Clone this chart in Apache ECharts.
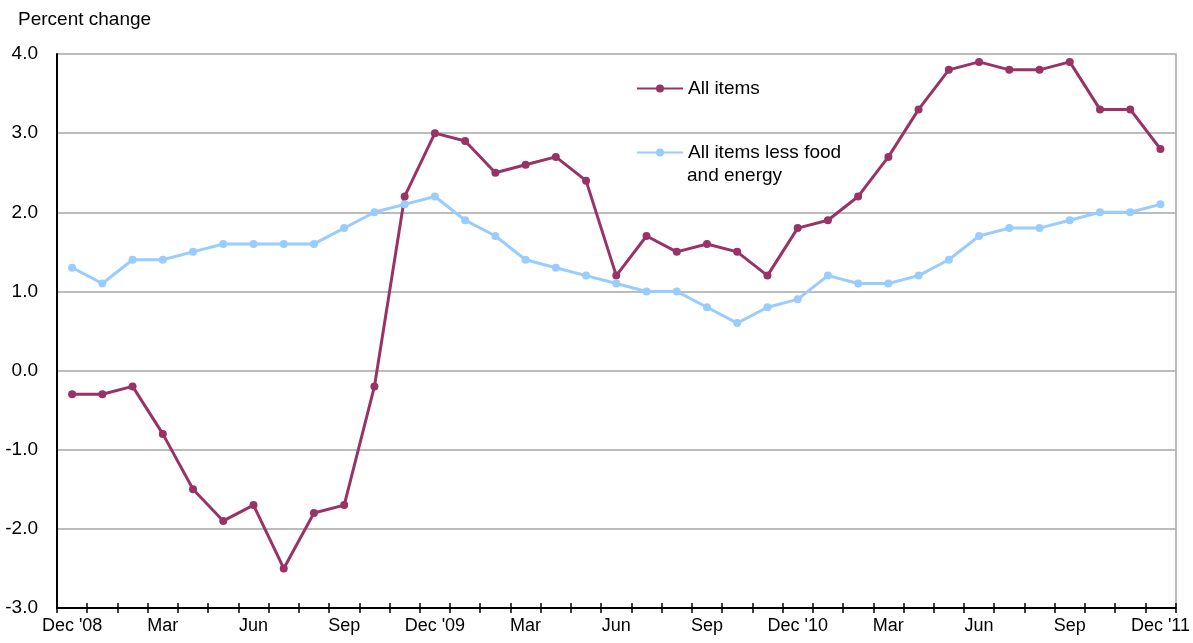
<!DOCTYPE html>
<html><head><meta charset="utf-8">
<script src="https://cdn.jsdelivr.net/npm/echarts@6/dist/echarts.min.js"></script>
<style>html,body{margin:0;padding:0;background:#fff}#c{width:1193px;height:643px}</style>
</head><body><div id="c"></div>
<script>
const months = ["Dec '08","Jan","Feb","Mar","Apr","May","Jun","Jul","Aug","Sep","Oct","Nov",
"Dec '09","Jan","Feb","Mar","Apr","May","Jun","Jul","Aug","Sep","Oct","Nov",
"Dec '10","Jan","Feb","Mar","Apr","May","Jun","Jul","Aug","Sep","Oct","Nov","Dec '11"];
const allItems = [-0.3,-0.3,-0.2,-0.8,-1.5,-1.9,-1.7,-2.5,-1.8,-1.7,-0.2,2.2,
3.0,2.9,2.5,2.6,2.7,2.4,1.2,1.7,1.5,1.6,1.5,1.2,
1.8,1.9,2.2,2.7,3.3,3.8,3.9,3.8,3.8,3.9,3.3,3.3,2.8];
const core = [1.3,1.1,1.4,1.4,1.5,1.6,1.6,1.6,1.6,1.8,2.0,2.1,
2.2,1.9,1.7,1.4,1.3,1.2,1.1,1.0,1.0,0.8,0.6,0.8,
0.9,1.2,1.1,1.1,1.2,1.4,1.7,1.8,1.8,1.9,2.0,2.0,2.1];
const yTicks = [-3,-2,-1,0,1,2,3,4];

const font = "'Liberation Sans', Arial, sans-serif";
const c1 = '#993366', c2 = '#99ccff';
const chart = echarts.init(document.getElementById('c'));
chart.setOption({
  animation:false,
  textStyle:{fontFamily:font},
  grid:{left:57,right:16,top:54,bottom:35},
  legend:[
    {left:636,top:79,padding:0,itemWidth:46,itemHeight:10,data:['All items'],
     textStyle:{fontSize:19,color:'#000',fontFamily:font}},
    {left:636,top:143,padding:0,itemWidth:46,itemHeight:10,data:['All items less food and energy'],
     formatter:()=> 'All items less food',
     textStyle:{fontSize:19,color:'#000',fontFamily:font}}
  ],
  graphic:[
    {type:'text',left:18,top:10,style:{text:'Percent change',font:"19px "+font,fill:'#000'}},
    {type:'text',left:687,top:166,style:{text:'and energy',font:"19px "+font,fill:'#000'}}
  ],
  xAxis:[
   {type:'category',data:months,boundaryGap:true,
    axisLine:{onZero:false,lineStyle:{color:'#000',width:2}},
    axisTick:{show:true,interval:0,length:5,lineStyle:{color:'#000',width:1.5}},
    axisLabel:{interval:2,color:'#000',fontSize:18,fontFamily:font,margin:9},
    splitLine:{show:false}},
   {type:'category',data:months,boundaryGap:true,position:'bottom',
    axisLine:{show:false,onZero:false},
    axisTick:{show:true,inside:true,interval:0,length:5,lineStyle:{color:'#000',width:1.5}},
    axisLabel:{show:false},splitLine:{show:false}}
  ],
  yAxis:[
   {type:'value',min:-3,max:4,interval:1,
    axisLine:{show:true,lineStyle:{color:'#000',width:2}},
    axisTick:{show:false},
    axisLabel:{color:'#000',fontSize:19,fontFamily:font,margin:19,formatter:v=>v.toFixed(1)},
    splitLine:{lineStyle:{color:'#a6a6a6',width:1.5}}},
   {type:'value',min:-3,max:4,interval:1,position:'right',
    axisLine:{show:true,lineStyle:{color:'#a6a6a6',width:1.5}},
    axisTick:{show:false},axisLabel:{show:false},splitLine:{show:false}}
  ],
  series:[
    {name:'All items',type:'line',data:allItems,color:c1,symbol:'circle',symbolSize:8,
     lineStyle:{width:3,color:c1},itemStyle:{color:c1}},
    {name:'All items less food and energy',type:'line',data:core,color:c2,symbol:'circle',symbolSize:8,
     lineStyle:{width:3,color:c2},itemStyle:{color:c2}}
  ]
});
</script></body></html>
